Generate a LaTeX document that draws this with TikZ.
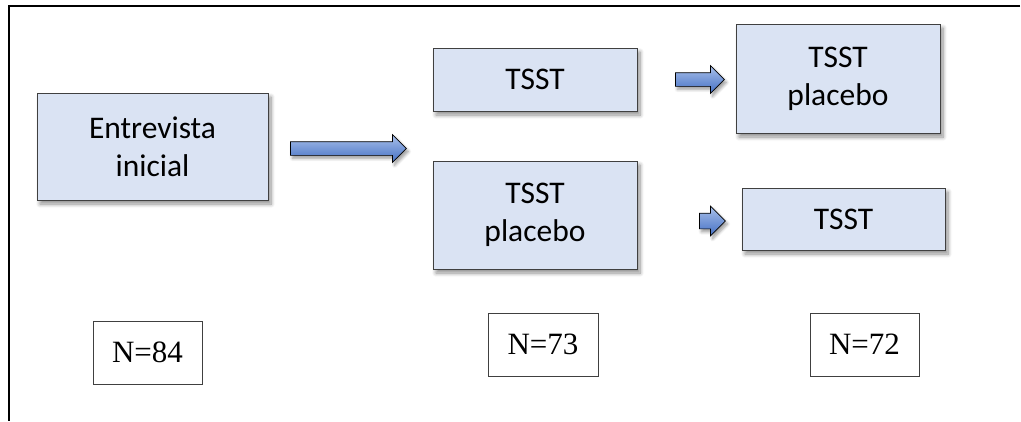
\documentclass[tikz,border=0pt]{standalone}
\usepackage{fontspec}
\setmainfont{Liberation Serif}
\newfontfamily\boxfont{Carlito}
\usetikzlibrary{shapes.arrows,shadows.blur}
\definecolor{boxfill}{HTML}{DAE3F3}
\definecolor{boxline}{HTML}{404040}
\definecolor{arrtop}{HTML}{A9C0EA}
\definecolor{arrbot}{HTML}{4470C4}
\tikzset{
  bluebox/.style={draw=boxline, line width=0.9pt, fill=boxfill, inner sep=0pt,
    align=center, font=\boxfont\fontsize{31.5}{38}\selectfont,
    blur shadow={shadow xshift=3pt, shadow yshift=-4pt, shadow blur steps=8, shadow blur radius=4pt, shadow opacity=45}},
  nbox/.style={draw=boxline, line width=0.8pt, fill=white, inner sep=0pt,
    minimum width=109pt, minimum height=63pt, font=\fontsize{31}{36}\selectfont},
  blockarrow/.style={single arrow, draw=black, line width=0.7pt, inner sep=6.5pt,
    single arrow head extend=7pt, minimum width=0pt, top color=arrtop, bottom color=arrbot,
    blur shadow={shadow xshift=2pt, shadow yshift=-3pt, shadow blur steps=6, shadow blur radius=3pt, shadow opacity=40}},
}
\begin{document}
\begin{tikzpicture}[x=1pt,y=-1pt]
\useasboundingbox (0,0) rectangle (1021,421);
\draw[line width=2pt] (1020,6) -- (9,6) -- (9,421);
\node[bluebox, minimum width=231pt, minimum height=107pt] (ent) at (152.5,146.5) {Entrevista\\inicial};
\node[bluebox, minimum width=204pt, minimum height=63pt] (tsst1) at (535,79.5) {TSST};
\node[bluebox, minimum width=204pt, minimum height=108pt] (plac1) at (535,215) {TSST\\placebo};
\node[bluebox, minimum width=204pt, minimum height=109pt] (plac2) at (838,78.5) {TSST\\placebo};
\node[bluebox, minimum width=203pt, minimum height=62pt] (tsst2) at (843.5,219) {TSST};
\node[blockarrow, minimum height=116pt] (a1) at (345,148.5) {};
\node[blockarrow, minimum height=49pt] (a2) at (696.5,79.5) {};
\node[blockarrow, minimum height=26pt, inner sep=7.5pt] (a3) at (708.5,221) {};
\node[nbox] (n84) at (147.5,352.5) {N=84};
\node[nbox, minimum width=110pt] (n73) at (543,344.5) {N=73};
\node[nbox] (n72) at (864.5,344.5) {N=72};
\end{tikzpicture}
\end{document}
